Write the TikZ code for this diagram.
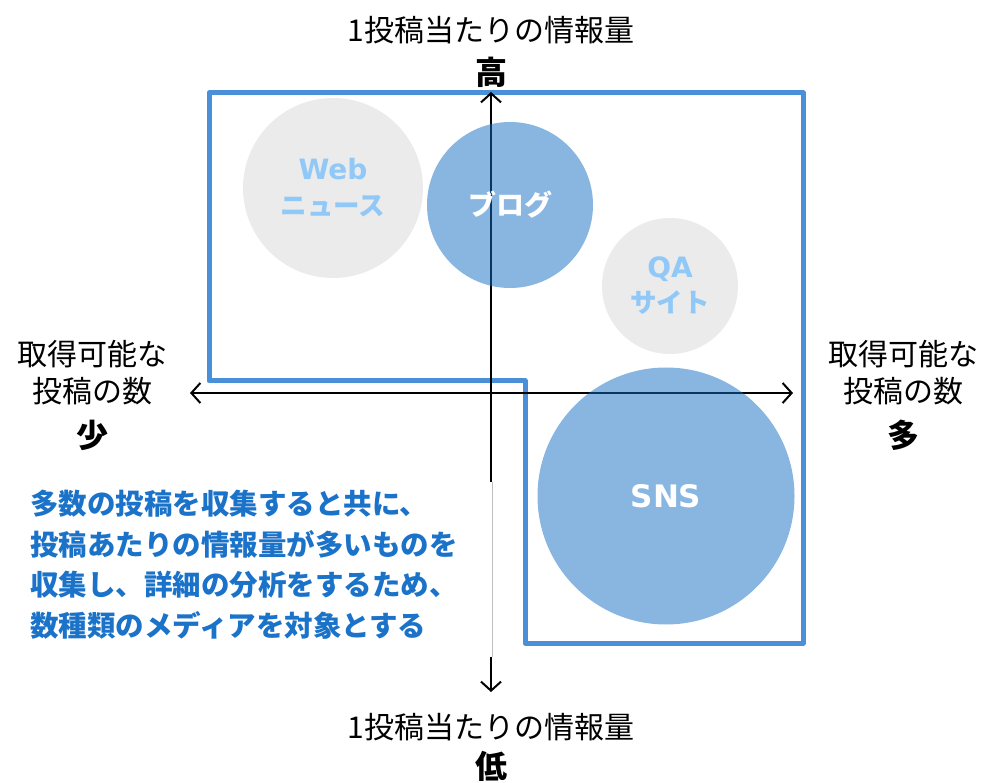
\documentclass[tikz,border=0pt]{standalone}
\usepackage{fontspec}
\setmainfont{Noto Sans CJK JP}
\newfontfamily\latinbold{DejaVu Sans}[FakeStretch=1.0]
\usetikzlibrary{arrows.meta}
\definecolor{frameblue}{RGB}{74,144,217}
\definecolor{circblue}{RGB}{17,109,195}
\definecolor{circgray}{RGB}{235,235,235}
\definecolor{lightbluetext}{RGB}{144,200,248}
\definecolor{noteblue}{RGB}{27,114,201}
\tikzset{
  axis/.style={line width=2pt, black, {Straight Barb[length=9pt,width=20pt,line width=2pt]}-{Straight Barb[length=9pt,width=20pt,line width=2pt]}},
  bluecirc/.style={circle, fill=circblue, fill opacity=0.5, text opacity=1, inner sep=0pt, text=white, font=\fontsize{28}{33}\selectfont\bfseries, align=center},
  graycirc/.style={circle, fill=circgray, inner sep=0pt, text=lightbluetext, font=\fontsize{26.5}{36}\selectfont\bfseries, align=center},
  axlabel/.style={font=\fontsize{30}{37}\selectfont, align=center, inner sep=0pt},
  biglabel/.style={font=\fontsize{32}{37}\selectfont\bfseries, inner sep=0pt},
  note/.style={font=\fontsize{28.5}{40.5}\selectfont\bfseries, text=noteblue, align=left, inner sep=0pt, anchor=north west}
}
\begin{document}
\begin{tikzpicture}[x=1pt,y=-1pt]
\useasboundingbox (0,0) rectangle (983,783);
% frame
\draw[frameblue, line width=5pt, line join=round] (209,93) -- (803,93) -- (803,643) -- (525,643) -- (525,381) -- (209,381) -- cycle;
% axes
\coordinate (vt) at (491,92);
\coordinate (vb) at (491,692);
\coordinate (hl) at (190,393);
\coordinate (hr) at (793,393);
\draw[axis] (vb) -- (vt);
\draw[axis] (hl) -- (hr);
% white box of note covering part of vertical axis
\fill[white] (20,482) rectangle (493,657);
\draw[gray!50, line width=0.7pt] (492,482) -- (492,657);
% circles
\node[graycirc, minimum size=180pt] (web) at (333,188) {{\latinbold\bfseries\fontsize{28}{36}\selectfont Web}\\ニュース};
\node[bluecirc, minimum size=166pt] (blog) at (510,205) {ブログ};
\node[graycirc, minimum size=136pt, font=\fontsize{26.5}{35}\selectfont\bfseries] (qa) at (670,286) {{\latinbold\bfseries\fontsize{28}{35}\selectfont QA}\\サイト};
\node[bluecirc, minimum size=257pt, font=\latinbold\fontsize{31}{40}\selectfont\bfseries] (sns) at (666,496) {SNS};
% labels
\node[axlabel] (toplab) at (491,30) {1投稿当たりの情報量};
\node[biglabel] (high) at (491,72) {高};
\node[axlabel] (botlab) at (491,727) {1投稿当たりの情報量};
\node[biglabel] (low) at (491,766) {低};
\node[axlabel] (leftlab) at (92,373) {取得可能な\\投稿の数};
\node[biglabel] (few) at (92,435) {少};
\node[axlabel] (rightlab) at (903,373) {取得可能な\\投稿の数};
\node[biglabel] (many) at (903,435) {多};
\node[note] (memo) at (30,490) {多数の投稿を収集すると共に、\\投稿あたりの情報量が多いものを\\収集し、詳細の分析をするため、\\数種類のメディアを対象とする};
\end{tikzpicture}
\end{document}
